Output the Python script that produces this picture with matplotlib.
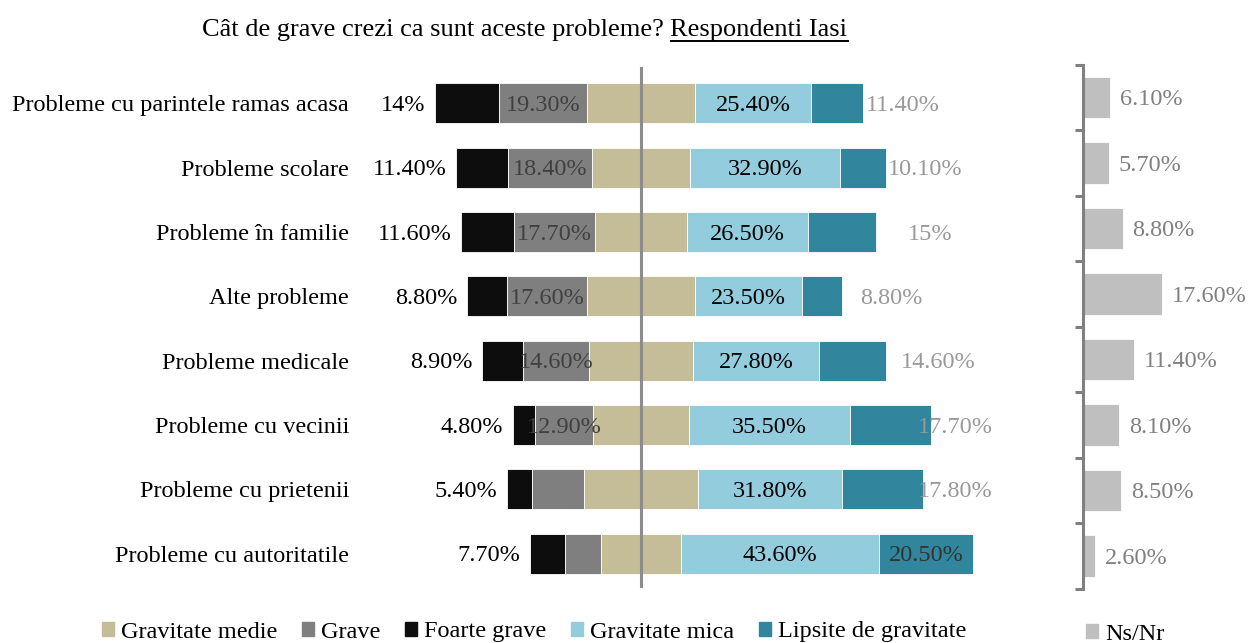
import numpy as np
import matplotlib
matplotlib.use("Agg")
import matplotlib.pyplot as plt
from matplotlib.patches import Patch
from matplotlib.lines import Line2D

plt.rcParams['font.family'] = ['Liberation Serif', 'DejaVu Serif']

# ---- data (percent) ----
categories = ["Probleme cu parintele ramas acasa", "Probleme scolare", "Probleme în familie",
              "Alte probleme", "Probleme medicale", "Probleme cu vecinii",
              "Probleme cu prietenii", "Probleme cu autoritatile"]
foarte_grave = [14.0, 11.4, 11.6, 8.8, 8.9, 4.8, 5.4, 7.7]
grave = [19.3, 18.4, 17.7, 17.6, 14.6, 12.9, 11.6, 8.0]
gravitate_medie = [23.8, 21.5, 20.4, 23.7, 22.7, 21.0, 24.9, 17.6]
gravitate_mica = [25.4, 32.9, 26.5, 23.5, 27.8, 35.5, 31.8, 43.6]
lipsite = [11.4, 10.1, 15.0, 8.8, 14.6, 17.7, 17.8, 20.5]
ns_nr = [6.1, 5.7, 8.8, 17.6, 11.4, 8.1, 8.5, 2.6]

foarte_labels = ["14%", "11.40%", "11.60%", "8.80%", "8.90%", "4.80%", "5.40%", "7.70%"]
grave_labels = ["19.30%", "18.40%", "17.70%", "17.60%", "14.60%", "12.90%", "", ""]
mica_labels = ["25.40%", "32.90%", "26.50%", "23.50%", "27.80%", "35.50%", "31.80%", "43.60%"]
lipsite_labels = ["11.40%", "10.10%", "15%", "8.80%", "14.60%", "17.70%", "17.80%", "20.50%"]
ns_labels = ["6.10%", "5.70%", "8.80%", "17.60%", "11.40%", "8.10%", "8.50%", "2.60%"]

# label nudges for the "Lipsite" values (points right of the bar end), None = inside
lipsite_dx = [2, 2, 23, 13, 11, -9, -4, None]

c_medie = "#c4bd97"
c_grave = "#7f7f7f"
c_foarte = "#0d0d0d"
c_mica = "#93cddd"
c_lips = "#31859c"
c_ns = "#bfbfbf"

W, H = 1249, 643
fig = plt.figure(figsize=(W / 100, H / 100), dpi=100)

# main diverging axes: center at x=641 px, 4.55 px per percent
px_per = 4.55
cx = 641
ax_l, ax_r = 370, 1040
ax_top, ax_bot = 71, 586
ax = fig.add_axes([ax_l / W, 1 - ax_bot / H, (ax_r - ax_l) / W, (ax_bot - ax_top) / H])
ax.set_xlim((ax_l - cx) / px_per, (ax_r - cx) / px_per)
ax.set_ylim(len(categories) - 0.5, -0.5)

y = np.arange(len(categories))
fg = np.array(foarte_grave)
gr = np.array(grave)
md = np.array(gravitate_medie)
mi = np.array(gravitate_mica)
lp = np.array(lipsite)

start = -(md / 2 + gr + fg)
h = 0.62
kw = dict(height=h, edgecolor="white", linewidth=0.6)
ax.barh(y, fg, left=start, color=c_foarte, **kw)
ax.barh(y, gr, left=start + fg, color=c_grave, **kw)
ax.barh(y, md, left=-md / 2, color=c_medie, **kw)
ax.barh(y, mi, left=md / 2, color=c_mica, **kw)
ax.barh(y, lp, left=md / 2 + mi, color=c_lips, **kw)

ax.axvline(0, color="#8c8c8c", lw=2.2, ymin=0, ymax=1.005, clip_on=False)

fs = 17.5
dy = -1.5  # small drop so digits sit centred on the bars


def put(a, txt, x, yy, dx=0, ha="center", color="black"):
    a.annotate(txt, (x, yy), xytext=(dx, dy), textcoords="offset points",
               ha=ha, va="center", fontsize=fs, color=color)


for i in range(len(categories)):
    put(ax, foarte_labels[i], start[i], y[i], dx=-7, ha="right")
    if grave_labels[i]:
        put(ax, grave_labels[i], start[i] + fg[i] + gr[i] / 2, y[i], color="#404040")
    put(ax, mica_labels[i], md[i] / 2 + mi[i] / 2, y[i])
    end = md[i] / 2 + mi[i] + lp[i]
    if lipsite_dx[i] is None:
        put(ax, lipsite_labels[i], end - lp[i] / 2, y[i], color="#333333")
    else:
        put(ax, lipsite_labels[i], end, y[i], dx=lipsite_dx[i], ha="left", color="#999999")

ax.set_yticks(y)
ax.set_yticklabels(categories, fontsize=fs)
ax.tick_params(axis="y", length=0, pad=15)
ax.set_xticks([])
for s in ax.spines.values():
    s.set_visible(False)

# right panel: Ns/Nr
px_ns = 4.5
r_l = 1083
r_top, r_bot = 64.7, 588.8
ax2 = fig.add_axes([r_l / W, 1 - r_bot / H, (W - r_l) / W, (r_bot - r_top) / H])
ax2.set_xlim(0, (W - r_l) / px_ns)
ax2.set_ylim(len(categories) - 0.5, -0.5)
ax2.barh(y, ns_nr, height=0.63, color=c_ns, edgecolor="white", linewidth=0.6)
for i, v in enumerate(ns_nr):
    put(ax2, ns_labels[i], v, y[i], dx=7, ha="left", color="#808080")
for k in ["top", "right", "bottom"]:
    ax2.spines[k].set_visible(False)
ax2.spines["left"].set_color("#808080")
ax2.spines["left"].set_linewidth(2.2)
ax2.set_xticks([])
ax2.set_yticks(np.arange(-0.5, len(categories), 1.0))
ax2.set_yticklabels([])
ax2.tick_params(axis="y", length=6, width=2.2, color="#808080", direction="out")

# legends
handles = [Patch(color=c_medie, label="Gravitate medie"),
           Patch(color=c_grave, label="Grave"),
           Patch(color=c_foarte, label="Foarte grave"),
           Patch(color=c_mica, label="Gravitate mica"),
           Patch(color=c_lips, label="Lipsite de gravitate")]
fig.legend(handles=handles, loc="center", bbox_to_anchor=(534 / W, 1 - 632 / H), ncol=5,
           frameon=False, fontsize=fs, handlelength=0.5, handleheight=0.5,
           handletextpad=0.3, columnspacing=1.0, borderpad=0)
fig.legend(handles=[Patch(color=c_ns, label="Ns/Nr")], loc="center",
           bbox_to_anchor=(1125 / W, 1 - 634 / H), frameon=False, fontsize=fs,
           handlelength=0.5, handleheight=0.5, handletextpad=0.3, borderpad=0)

# title with underlined second part
tfs = 19
t1 = fig.text(202 / W, 1 - 30 / H, "Cât de grave crezi ca sunt aceste probleme? ",
              ha="left", va="center", fontsize=tfs)
fig.canvas.draw()
r = fig.canvas.get_renderer()
bb1 = t1.get_window_extent(r)
t2 = fig.text(bb1.x1 / W, 1 - 30 / H, "Respondenti Iasi", ha="left", va="center", fontsize=tfs)
fig.canvas.draw()
bb2 = t2.get_window_extent(r)
uy = (1 - 41 / H)
fig.add_artist(Line2D([bb2.x0 / W, bb2.x1 / W], [uy, uy], color="black", lw=1.4))

fig.savefig("out.png", dpi=100)
